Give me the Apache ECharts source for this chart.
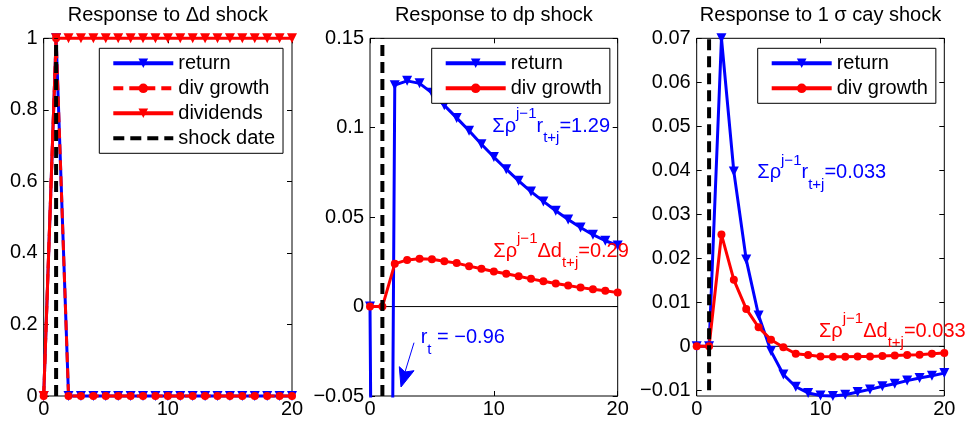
<!DOCTYPE html>
<html><head><meta charset="utf-8">
<script src="https://cdn.jsdelivr.net/npm/echarts@6/dist/echarts.min.js"></script>
<style>html,body{margin:0;padding:0;background:#fff}#chart{width:969px;height:427px}</style>
</head><body><div id="chart"></div>
<script>
// ---------- data ----------
const steps = [0,1,2,3,4,5,6,7,8,9,10,11,12,13,14,15,16,17,18,19,20];
const panelTitles = ['Response to \u0394d shock', 'Response to dp shock', 'Response to 1 \u03c3 cay shock'];
const shockDate = 1;

// Panel 1: response to Δd shock
const dReturn    = [0,1,0,0,0,0,0,0,0,0,0,0,0,0,0,0,0,0,0,0,0];
const dDivGrowth = [0,1,0,0,0,0,0,0,0,0,0,0,0,0,0,0,0,0,0,0,0];
const dDividends = [0,1,1,1,1,1,1,1,1,1,1,1,1,1,1,1,1,1,1,1,1];
const dShockSpan = [0, 1];
const dYTicks = [0, 0.2, 0.4, 0.6, 0.8, 1];

// Panel 2: response to dp shock
const dpReturn = [0,-0.96,0.1238,0.1262,0.1248,0.1195,0.1125,0.1055,0.0983,0.0908,0.0836,0.0768,0.0703,0.0643,0.0588,0.0536,0.0487,0.0442,0.0402,0.0368,0.0342];
const dpDivGrowth = [0,0,0.0239,0.0261,0.0267,0.0265,0.0254,0.0243,0.0226,0.0211,0.0196,0.0183,0.0170,0.0155,0.0142,0.0129,0.0118,0.0106,0.0097,0.0088,0.0078];
const dpShockSpan = [-0.05, 0.15];
const dpYTicks = [-0.05, 0, 0.05, 0.1, 0.15];

// Panel 3: response to 1σ cay shock
const cayReturn = [0,0,0.0700,0.0397,0.0197,0.0070,-0.0011,-0.0064,-0.0092,-0.0106,-0.0112,-0.0113,-0.0110,-0.0104,-0.0098,-0.0091,-0.0085,-0.0078,-0.0072,-0.0067,-0.0061];
const cayDivGrowth = [0,0,0.0254,0.0151,0.0085,0.0043,0.0015,-0.0002,-0.0017,-0.0020,-0.0023,-0.0024,-0.0024,-0.0023,-0.0023,-0.0022,-0.0021,-0.0020,-0.0019,-0.0017,-0.0015];
const cayShockSpan = [-0.01, 0.07];
const cayYTicks = [-0.01, 0, 0.01, 0.02, 0.03, 0.04, 0.05, 0.06, 0.07];
const cayYRange = [-0.0113, 0.07];

const xTicks = [0, 10, 20];
const zeroLineX = [0, 20];
const zeroLineY = [0, 0];

// ---------- styling ----------
const FONT = 'Liberation Sans, Arial, Helvetica, sans-serif';
const BLUE = '#0000ff', RED = '#ff0000', BLACK = '#000000';
const grids = [
  {left: 43.7, top: 38.3, width: 248.3, height: 357.7},
  {left: 370, top: 38.3, width: 247.7, height: 357.7},
  {left: 696.7, top: 38.3, width: 247.6, height: 357.7}
];
const yRanges = [[0, 1], [-0.05, 0.15], cayYRange];
const yTickSets = [dYTicks, dpYTicks, cayYTicks];

const pairs = (ys) => steps.map((x, i) => [x, ys[i]]);
const fmt = (v) => String(+(+v).toFixed(4)).replace('-', '\u2212');

const xAxes = [], yAxes = [];
grids.forEach((g, i) => {
  ['bottom', 'top'].forEach((pos, k) => {
    xAxes.push({
      type: 'value', gridIndex: i, position: pos, min: 0, max: 20,
      axisLine: {show: false, onZero: false}, splitLine: {show: false},
      axisTick: {show: true, inside: true, length: 5, lineStyle: {color: BLACK, width: 1}, customValues: xTicks},
      axisLabel: {show: k === 0, customValues: xTicks, color: BLACK, fontSize: 20, fontFamily: FONT, margin: 3, lineHeight: 20, formatter: fmt}
    });
  });
  ['left', 'right'].forEach((pos, k) => {
    yAxes.push({
      type: 'value', gridIndex: i, position: pos, min: yRanges[i][0], max: yRanges[i][1],
      axisLine: {show: false, onZero: false}, splitLine: {show: false},
      axisTick: {show: true, inside: true, length: 5, lineStyle: {color: BLACK, width: 1}, customValues: yTickSets[i]},
      axisLabel: {show: k === 0, customValues: yTickSets[i], color: BLACK, fontSize: 20, fontFamily: FONT, margin: 6, formatter: fmt}
    });
  });
});

function lineSeries(name, gi, ys, color, symbol, opts) {
  return Object.assign({
    type: 'line', name: name, xAxisIndex: 2 * gi, yAxisIndex: 2 * gi,
    data: pairs(ys), symbol: symbol, symbolSize: symbol === 'circle' ? 8 : 10,
    symbolRotate: symbol === 'triangle' ? 180 : 0,
    lineStyle: {color: color, width: 3, type: 'solid'},
    itemStyle: {color: color},
    showSymbol: true, animation: false, clip: false, z: 3
  }, opts || {});
}
function shockSeries(name, gi, span) {
  return {
    type: 'line', name: name, xAxisIndex: 2 * gi, yAxisIndex: 2 * gi,
    data: span.map(v => [shockDate, v]), symbol: 'none',
    lineStyle: {color: BLACK, width: 4, type: [11, 6]}, itemStyle: {color: BLACK},
    animation: false, z: 4
  };
}
function zeroSeries(name, gi) {
  return {
    type: 'line', name: name, xAxisIndex: 2 * gi, yAxisIndex: 2 * gi,
    data: zeroLineX.map((x, i) => [x, zeroLineY[i]]), symbol: 'none',
    lineStyle: {color: BLACK, width: 1}, animation: false, z: 1, silent: true
  };
}

const series = [
  // panel 1
  lineSeries('return', 0, dReturn, BLUE, 'triangle'),
  lineSeries('div growth', 0, dDivGrowth, RED, 'circle', {lineStyle: {color: RED, width: 3, type: [10, 6]}}),
  lineSeries('dividends', 0, dDividends, RED, 'triangle'),
  shockSeries('shock date', 0, dShockSpan),
  // panel 2
  zeroSeries('zero#2', 1),
  shockSeries('shock#2', 1, dpShockSpan),
  lineSeries('return#2', 1, dpReturn, BLUE, 'triangle', {clip: true}),
  lineSeries('div growth#2', 1, dpDivGrowth, RED, 'circle', {clip: true}),
  // panel 3
  zeroSeries('zero#3', 2),
  shockSeries('shock#3', 2, cayShockSpan),
  lineSeries('return#3', 2, cayReturn, BLUE, 'triangle'),
  lineSeries('div growth#3', 2, cayDivGrowth, RED, 'circle')
];

const legendBase = {
  orient: 'vertical', itemWidth: 60, itemHeight: 12, itemGap: 5,
  padding: [5, 8, 5, 12], borderColor: BLACK, borderWidth: 1, backgroundColor: '#fff',
  selectedMode: false, symbolRotate: 'inherit',
  lineStyle: {width: 4},
  textStyle: {color: BLACK, fontSize: 20, fontFamily: FONT, lineHeight: 20},
  formatter: (n) => n.split('#')[0]
};
const legends = [
  Object.assign({}, legendBase, {left: 99.3, top: 48.3,
    data: [{name: 'return'}, {name: 'div growth'}, {name: 'dividends'}, {name: 'shock date', itemStyle: {opacity: 0}}]}),
  Object.assign({}, legendBase, {left: 431.7, top: 48.3, data: [{name: 'return#2'}, {name: 'div growth#2'}]}),
  Object.assign({}, legendBase, {left: 757.7, top: 48.3, data: [{name: 'return#3'}, {name: 'div growth#3'}]})
];

const titles = panelTitles.map((t, i) => ({
  text: t, left: grids[i].left + grids[i].width / 2, top: 5, textAlign: 'center', padding: 0,
  textStyle: {color: BLACK, fontSize: 20, fontWeight: 'normal', fontFamily: FONT, lineHeight: 20}
}));

// annotation rich text
function richStyles(color, subLH) {
  return {
    m: {fontSize: 20, fontFamily: FONT, fill: color, color: color, lineHeight: 39, verticalAlign: 'middle'},
    sup: {fontSize: 15, fontFamily: FONT, fill: color, color: color, lineHeight: 15, verticalAlign: 'top'},
    sub: {fontSize: 15, fontFamily: FONT, fill: color, color: color, lineHeight: subLH, verticalAlign: 'bottom'}
  };
}
function annot(x, y, text, color, subLH) {
  return {type: 'text', x: x, y: y, z: 10, silent: true,
    style: {text: text, fill: color, font: '20px ' + FONT, rich: richStyles(color, subLH)}};
}
const graphics = [
  annot(492.3, 106.7, '{m|\u03a3\u03c1}{sup|j\u22121}{m|r}{sub|t+j}{m|=1.29}', BLUE, 28),
  annot(493.3, 231.6, '{m|\u03a3\u03c1}{sup|j\u22121}{m|\u0394d}{sub|t+j}{m|=0.29}', RED, 28),
  annot(757.3, 153.4, '{m|\u03a3\u03c1}{sup|j\u22121}{m|r}{sub|t+j}{m|=0.033}', BLUE, 28),
  annot(819, 311.7, '{m|\u03a3\u03c1}{sup|j\u22121}{m|\u0394d}{sub|t+j}{m|=0.033}', RED, 28),
  annot(420.7, 318.4, '{m|r}{sub|t}{m| = \u22120.96}', BLUE, 15.6),
  {type: 'line', z: 10, silent: true, shape: {x1: 414, y1: 342.7, x2: 405, y2: 372}, style: {stroke: BLUE, lineWidth: 1}},
  {type: 'polygon', z: 10, silent: true, shape: {points: [[399.3, 366.7], [401, 387], [414, 370.7], [405, 372]]}, style: {fill: BLUE, stroke: BLUE, lineWidth: 1}}
];

const chart = echarts.init(document.getElementById('chart'), null, {renderer: 'canvas'});
chart.setOption({
  animation: false,
  backgroundColor: '#fff',
  title: titles,
  legend: legends,
  grid: grids.map(g => Object.assign({show: true, borderColor: BLACK, borderWidth: 1, backgroundColor: 'transparent', containLabel: false, outerBoundsMode: 'none'}, g)),
  xAxis: xAxes,
  yAxis: yAxes,
  series: series,
  graphic: graphics
});
</script></body></html>
